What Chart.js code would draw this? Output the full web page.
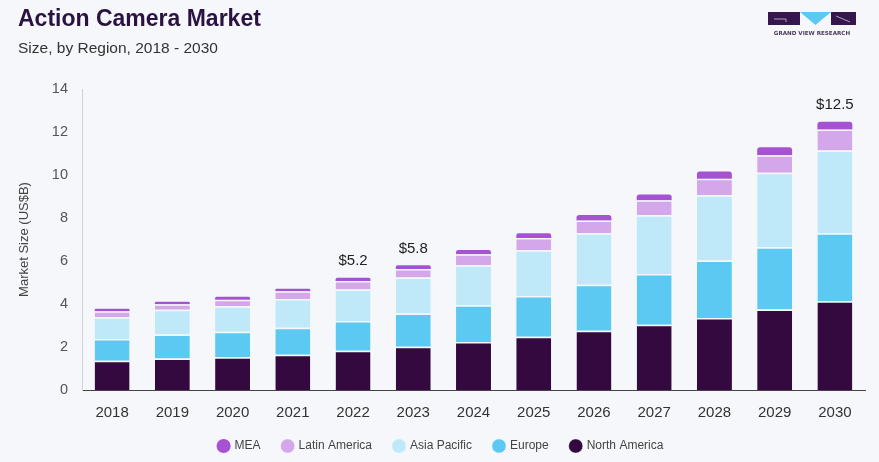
<!DOCTYPE html>
<html>
<head>
<meta charset="utf-8">
<script src="https://cdn.jsdelivr.net/npm/chart.js@4/dist/chart.umd.min.js"></script>
<style>
    html, body { margin: 0; padding: 0; background: #f5f7fa; }
    body { width: 879px; height: 462px; position: relative; overflow: hidden; font-family: 'Liberation Sans', Arial, sans-serif; }
    #title { position: absolute; left: 18px; top: 5px; font-size: 23px; font-weight: bold; color: #2a1242; }
    #subtitle { position: absolute; left: 18px; top: 39px; font-size: 15.5px; color: #333; }
    #logo { position: absolute; left: 766px; top: 10px; }
    #wrap { position: absolute; left: 0; top: 0; width: 879px; height: 462px; }
</style>
</head>
<body>
<div id="wrap"><canvas id="chart"></canvas></div>
<div id="title">Action Camera Market</div>
<div id="subtitle">Size, by Region, 2018 - 2030</div>
<svg id="logo" width="92" height="30" viewBox="0 0 92 30">
    <rect x="2" y="2" width="32" height="13" fill="#36174d"/>
    <path d="M8 9 H20 V12" stroke="#c9c2d3" stroke-width="0.8" fill="none"/>
    <polygon points="34,2 65,2 49.5,15" fill="#5bc9f0"/>
    <rect x="65" y="2" width="25" height="13" fill="#36174d"/>
    <path d="M70 6 L84 12" stroke="#c9c2d3" stroke-width="0.8" fill="none"/>
    <text x="46" y="25" text-anchor="middle" font-family="DejaVu Sans, sans-serif" font-size="5.6" font-weight="bold" fill="#4a3d5c">GRAND VIEW RESEARCH</text>
</svg>
<script>
// values in US$ billion
const years = ['2018', '2019', '2020', '2021', '2022', '2023', '2024', '2025', '2026', '2027', '2028', '2029', '2030'];
const northAmerica = [1.36, 1.46, 1.52, 1.64, 1.83, 2.01, 2.23, 2.48, 2.76, 3.04, 3.35, 3.74, 4.13];
const europe       = [1.01, 1.12, 1.19, 1.26, 1.38, 1.55, 1.71, 1.89, 2.13, 2.36, 2.67, 2.90, 3.16];
const asiaPacific  = [1.01, 1.15, 1.18, 1.33, 1.47, 1.67, 1.86, 2.13, 2.40, 2.73, 3.04, 3.46, 3.85];
const latinAmerica = [0.28, 0.26, 0.31, 0.36, 0.39, 0.40, 0.51, 0.57, 0.59, 0.70, 0.77, 0.82, 0.98];
const mea          = [0.12, 0.11, 0.14, 0.12, 0.15, 0.17, 0.20, 0.22, 0.26, 0.26, 0.33, 0.37, 0.36];
const totalLabels  = ['', '', '', '', '$5.2', '$5.8', '', '', '', '', '', '', '$12.5'];
const yTicks = [0, 2, 4, 6, 8, 10, 12, 14];

const bg = '#f5f7fa';
const font = "'Liberation Sans', Arial, sans-serif";

// draw the "$x.x" callouts above selected stacks
const totalsPlugin = {
    id: 'totals',
    afterDatasetsDraw(chart) {
        const ctx = chart.ctx;
        const yScale = chart.scales.y;
        const meta = chart.getDatasetMeta(chart.data.datasets.length - 1);
        ctx.save();
        ctx.font = '15px ' + font;
        ctx.fillStyle = '#222';
        ctx.textAlign = 'center';
        ctx.textBaseline = 'bottom';
        totalLabels.forEach((label, i) => {
            if (!label) return;
            const total = chart.data.datasets.reduce((s, ds) => s + ds.data[i], 0);
            const x = meta.data[i].x;
            const y = yScale.getPixelForValue(total);
            ctx.fillText(label, x, y - 9);
        });
        ctx.restore();
    }
};

const seg = (label, data, color) => ({
    label,
    data,
    backgroundColor: color,
    borderColor: bg,
    borderWidth: { top: 1.5 },
    borderSkipped: 'start',
    pointStyle: 'circle',
});

const ctx = document.getElementById('chart').getContext('2d');
new Chart(ctx, {
    type: 'bar',
    data: {
        labels: years,
        datasets: [
            seg('North America', northAmerica, '#33093f'),
            seg('Europe', europe, '#5bc9f1'),
            seg('Asia Pacific', asiaPacific, '#bfe9f9'),
            seg('Latin America', latinAmerica, '#d4a6ea'),
            {
                label: 'MEA',
                data: mea,
                backgroundColor: '#a553d3',
                borderWidth: 0,
                borderRadius: { topLeft: 3, topRight: 3, bottomLeft: 0, bottomRight: 0 },
                borderSkipped: false,
                pointStyle: 'circle',
            },
        ]
    },
    options: {
        responsive: true,
        maintainAspectRatio: false,
        animation: false,
        datasets: { bar: { categoryPercentage: 1, barPercentage: 0.58 } },
        layout: { padding: { top: 89, right: 14, left: 17, bottom: 0 } },
        scales: {
            x: {
                stacked: true,
                grid: { display: false, drawTicks: false },
                border: { display: true, color: '#444', width: 1 },
                ticks: { color: '#333', padding: 14, font: { size: 15, family: font } },
                afterFit: (s) => { s.height = 28; },
            },
            y: {
                stacked: true,
                min: 0,
                max: 14,
                afterBuildTicks: (s) => { s.ticks = yTicks.map(v => ({ value: v })); },
                grid: { display: false, drawTicks: false },
                border: { display: true, color: '#cfd2d8', width: 1 },
                ticks: { color: '#555', padding: 14, font: { size: 14.5, family: font } },
                title: {
                    display: true,
                    text: 'Market Size (US$B)',
                    color: '#444',
                    padding: 0,
                    font: { size: 13, family: font },
                },
                afterFit: (s) => { s.width = 65; },
            },
        },
        plugins: {
            legend: {
                position: 'bottom',
                reverse: true,
                labels: {
                    usePointStyle: true,
                    boxWidth: 10,
                    boxHeight: 10,
                    padding: 22,
                    color: '#444',
                    font: { size: 12, family: font },
                },
            },
            tooltip: { enabled: false },
        },
    },
    plugins: [totalsPlugin],
});
</script>
</body>
</html>
